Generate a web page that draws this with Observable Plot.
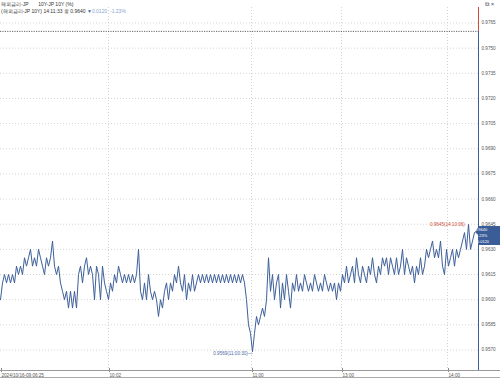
<!DOCTYPE html>
<html><head><meta charset="utf-8">
<script src="https://cdn.jsdelivr.net/npm/d3@7"></script>
<script src="https://cdn.jsdelivr.net/npm/@observablehq/plot@0.6"></script>
<style>
html,body{margin:0;padding:0;background:#fff;}
#wrap{position:relative;width:500px;height:378px;overflow:hidden;font-family:"Liberation Sans",Arial,sans-serif;}
.hdr{position:absolute;left:1px;font-size:5px;color:#333;white-space:pre;line-height:1;}
#wrap svg{position:absolute;left:0;top:0;}
</style></head>
<body><div id="wrap"></div>
<script>
// ---- data ----
const yields = [
 0.9600,0.9610,0.9615,0.9610,0.9615,0.9610,0.9615,0.9610,0.9620,0.9615,
 0.9620,0.9615,0.9625,0.9620,0.9625,0.9630,0.9620,0.9625,0.9620,0.9630,
 0.9625,0.9620,0.9615,0.9625,0.9620,0.9625,0.9635,0.9620,0.9615,0.9620,
 0.9610,0.9605,0.9600,0.9605,0.9595,0.9605,0.9595,0.9605,0.9595,0.9615,
 0.9620,0.9610,0.9620,0.9625,0.9615,0.9620,0.9615,0.9600,0.9620,0.9615,
 0.9600,0.9620,0.9610,0.9605,0.9600,0.9610,0.9605,0.9615,0.9610,0.9620,
 0.9615,0.9610,0.9615,0.9610,0.9615,0.9610,0.9615,0.9610,0.9615,0.9630,
 0.9605,0.9600,0.9610,0.9600,0.9615,0.9605,0.9600,0.9605,0.9600,0.9590,
 0.9600,0.9595,0.9605,0.9610,0.9600,0.9610,0.9605,0.9615,0.9610,0.9620,
 0.9610,0.9605,0.9615,0.9600,0.9610,0.9605,0.9615,0.9605,0.9610,0.9615,
 0.9610,0.9615,0.9610,0.9615,0.9610,0.9615,0.9610,0.9615,0.9610,0.9615,
 0.9610,0.9615,0.9610,0.9615,0.9610,0.9615,0.9610,0.9615,0.9610,0.9615,
 0.9610,0.9615,0.9610,0.9600,0.9585,0.9580,0.9569,0.9580,0.9590,0.9585,
 0.9590,0.9595,0.9590,0.9600,0.9625,0.9605,0.9615,0.9600,0.9610,0.9615,
 0.9595,0.9610,0.9600,0.9615,0.9605,0.9595,0.9610,0.9605,0.9615,0.9605,
 0.9610,0.9605,0.9615,0.9610,0.9605,0.9610,0.9605,0.9615,0.9610,0.9605,
 0.9610,0.9605,0.9615,0.9610,0.9605,0.9610,0.9605,0.9610,0.9600,0.9610,
 0.9605,0.9615,0.9610,0.9620,0.9610,0.9615,0.9620,0.9610,0.9625,0.9615,
 0.9610,0.9620,0.9615,0.9610,0.9620,0.9615,0.9625,0.9615,0.9610,0.9620,
 0.9615,0.9625,0.9620,0.9625,0.9615,0.9625,0.9620,0.9615,0.9625,0.9615,
 0.9620,0.9630,0.9615,0.9625,0.9620,0.9615,0.9620,0.9610,0.9620,0.9615,
 0.9625,0.9615,0.9620,0.9630,0.9625,0.9630,0.9635,0.9625,0.9630,0.9625,
 0.9635,0.9620,0.9615,0.9630,0.9620,0.9625,0.9630,0.9620,0.9630,0.9625,
 0.9630,0.9635,0.9640,0.9630,0.9645,0.9630,0.9635,0.9640
];
const yTicks = [0.9765,0.9750,0.9735,0.9720,0.9705,0.9690,0.9675,0.9660,0.9645,0.9630,0.9615,0.9600,0.9585,0.9570];
const xTickIdx = [0, 54, 125.5, 170.5, 223.5];
const xTickLabels = ["2024/10/16-09:06:25", "10:02", "11:00", "13:00", "14:00"];
const prevClose = 0.9760;
const lastValue = 0.9640;
const change = "▼0.0120";
const changePct = "-1.23%";
const maxLabel = {idx: 234, value: 0.9645, text: "0.9645(14:10:06)→"};
const minLabel = {idx: 126, value: 0.9569, text: "0.9569(11:00:30)—"};

const rows = yields.map((v, i) => ({i, v}));
const blue = "#3d5f99", red = "#d04a3c", grid = "#d4d4d4", txt = "#555";
const fs = 4.6;

const chart = Plot.plot({
  width: 500, height: 378,
  marginTop: 7, marginBottom: 8, marginLeft: 0, marginRight: 22,
  style: {fontFamily: "'Liberation Sans', Arial, sans-serif", background: "transparent"},
  x: {domain: [0, 239], axis: null},
  y: {domain: [0.955777, 0.977424], axis: null},
  marks: [
    Plot.gridY(yTicks, {stroke: grid, strokeOpacity: 1, strokeDasharray: "1,2"}),
    Plot.gridX(xTickIdx.slice(1), {stroke: grid, strokeOpacity: 1, strokeDasharray: "1,2"}),
    Plot.ruleY([prevClose], {stroke: "#555", strokeDasharray: "1.2,1.2", strokeWidth: 0.9}),
    Plot.axisY(yTicks, {anchor: "right", tickSize: 0, tickPadding: 3, tickFormat: d => d.toFixed(4), fontSize: fs, fill: txt, textAnchor: "start"}),
    Plot.axisX(xTickIdx, {anchor: "bottom", tickSize: 4, tickPadding: 1, tickFormat: (d) => xTickLabels[xTickIdx.indexOf(d)], fontSize: fs, fill: txt, stroke: "#888", textAnchor: "start", dx: 1, dy: -2}),
    Plot.lineY(rows, {x: "i", y: "v", stroke: blue, strokeWidth: 1}),
    Plot.ruleX([239], {y1: prevClose, y2: 0.955777, stroke: blue, strokeWidth: 1}),
    Plot.ruleX([239], {y1: 0.977424, y2: prevClose, stroke: red, strokeWidth: 1}),
    Plot.text([maxLabel], {x: "idx", y: "value", text: "text", textAnchor: "end", dx: 1, fill: red, fontSize: fs}),
    Plot.text([minLabel], {x: "idx", y: "value", text: "text", textAnchor: "end", dx: 0, dy: 2, fill: "#4a6aa5", fontSize: fs}),
    // axis baseline & bottom border + value box
    (index, scales, values, dims) => {
      const ns = "http://www.w3.org/2000/svg";
      const g = document.createElementNS(ns, "g");
      const yb = dims.height - dims.marginBottom;
      const mk = (tag, attrs) => { const e = document.createElementNS(ns, tag); for (const k in attrs) e.setAttribute(k, attrs[k]); g.appendChild(e); return e; };
      mk("line", {x1: 0, x2: dims.width, y1: yb + 0.5, y2: yb + 0.5, stroke: "#999", "stroke-width": 1});
      mk("line", {x1: 0, x2: dims.width, y1: dims.height - 0.5, y2: dims.height - 0.5, stroke: "#aaa", "stroke-width": 1});
      const x0 = dims.width - dims.marginRight;
      const yl = scales.y(lastValue);
      mk("path", {d: `M${x0 - 3},${yl} L${x0 + 1},${yl - 6} L${dims.width},${yl - 6} L${dims.width},${yl + 13} L${x0 + 1},${yl + 13} L${x0 + 1},${yl + 4} Z`, fill: "#3a5d98"});
      const t = (s, dy) => { const e = mk("text", {x: x0 + 3, y: yl + dy, fill: "#fff", "font-size": 4}); e.textContent = s; };
      t(lastValue.toFixed(4), -1.5);
      t(changePct, 4.5);
      t(change, 10.5);
      return g;
    }
  ]
});
const wrap = document.getElementById("wrap");
wrap.appendChild(chart);
const h1 = document.createElement("div"); h1.className = "hdr"; h1.style.top = "2px";
h1.textContent = "해외금리-JP       10Y-JP 10Y (%)";
const h2 = document.createElement("div"); h2.className = "hdr"; h2.style.top = "9px";
h2.innerHTML = `(해외금리-JP 10Y) 14:11:33 종 ${lastValue.toFixed(4)} <span style="color:#3568b8">${change[0]}</span><span style="color:#8aa6cf">${change.slice(1)}  ${changePct}</span>`;
const ic = document.createElement("div"); ic.className = "hdr"; ic.style.left = "485px"; ic.style.top = "1px"; ic.style.fontSize = "6px"; ic.style.color = "#445";
ic.textContent = "⧉ ×";
wrap.append(h1, h2, ic);
</script></body></html>
